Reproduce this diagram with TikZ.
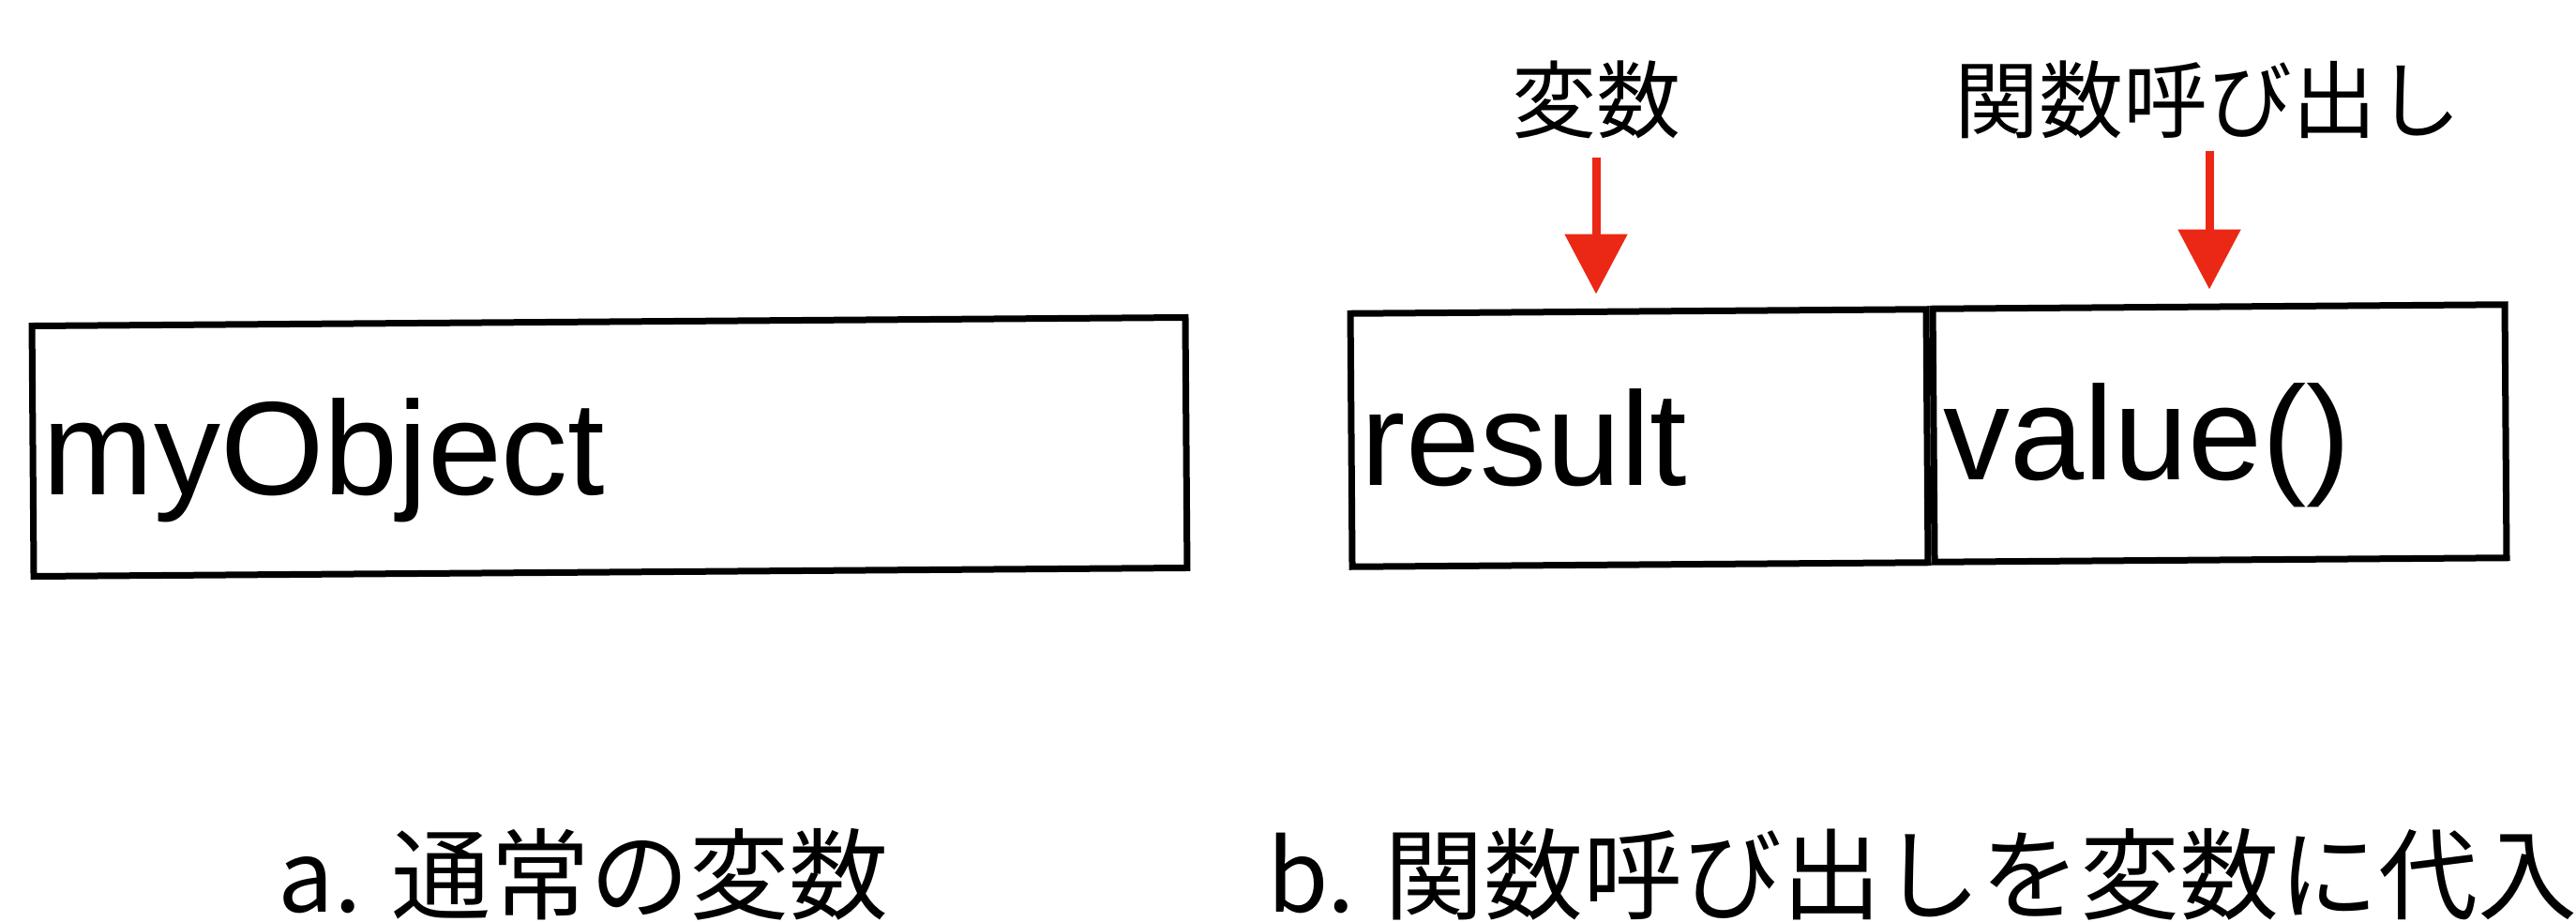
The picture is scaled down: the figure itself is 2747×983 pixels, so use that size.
\documentclass[tikz,border=0pt]{standalone}
\usepackage{fontspec}
\setmainfont{Liberation Sans}
\newfontfamily\cjk{Noto Sans CJK JP}
\usetikzlibrary{arrows.meta,calc}
\definecolor{arrred}{RGB}{235,40,22}
\begin{document}
\begin{tikzpicture}[x=0.25pt,y=-0.25pt,
  boxstyle/.style={draw=black,line width=1.75pt,inner sep=0pt,rectangle,rotate=0.42},
  codetext/.style={anchor=base west,inner sep=0pt,font=\fontsize{35.5pt}{40pt}\selectfont},
  jplabel/.style={anchor=base,inner sep=0pt,font=\cjk\fontsize{22.5pt}{26pt}\selectfont},
  captiontext/.style={anchor=base,inner sep=0pt,font=\cjk\fontsize{26.5pt}{30pt}\selectfont},
  redarr/.style={color=arrred,line width=2.25pt,-{Triangle[length=16pt,width=16.25pt]}}]
\useasboundingbox (0,0) rectangle (2747,983);
% a. plain variable
\node[boxstyle,minimum width=307.5pt,minimum height=66.75pt] (boxA) at (650,476.5) {};
\node[codetext] (tA) at (45,527) {myObject};
% b. function call assigned to variable
\node[boxstyle,minimum width=153.5pt,minimum height=67.5pt] (cellL) at (1748,467) {};
\node[boxstyle,minimum width=152.5pt,minimum height=67.5pt] (cellR) at (2367,462) {};
\node[codetext] (tL) at (1451,517) {result};
\node[codetext] (tR) at (2072,511) {value()};
% labels and arrows
\node[jplabel] (lab1) at (1702,141) {変数};
\node[jplabel] (lab2) at (2354,141) {関数呼び出し};
\draw[redarr] ($(lab1.base)+(0,27)$) -- ($(lab1.base |- cellL.north)+(0,-15)$);
\draw[redarr] ($(lab2.base)+(2,20)$) -- ($(lab2.base |- cellR.north)+(2,-15)$);
% captions
\node[captiontext] (capA) at (622,972) {a. 通常の変数};
\node[captiontext] (capB) at (2050,972) {b. 関数呼び出しを変数に代入};
\end{tikzpicture}
\end{document}
